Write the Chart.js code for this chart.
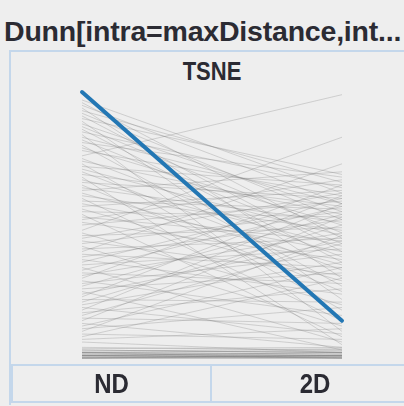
<!DOCTYPE html>
<html>
<head>
<meta charset="utf-8">
<script src="https://cdn.jsdelivr.net/npm/chart.js@4/dist/chart.umd.min.js"></script>
<style>
  html, body { margin: 0; padding: 0; }
  body { width: 404px; height: 406px; overflow: hidden; background: #eeeeee; position: relative;
         font-family: "Liberation Sans", Arial, sans-serif; color: #2b2b33; }
  #title { position: absolute; left: 4px; top: 15px; font-weight: bold; font-size: 28.5px; white-space: nowrap; letter-spacing: -0.2px; }
  #panel { position: absolute; left: 9px; top: 50px; width: 420px; height: 353px;
           border-left: 2px solid #c4d7eb; border-top: 2px solid #c4d7eb; }
  #sub { position: absolute; left: 0; width: 424px; top: 59px; text-align: center; font-weight: bold; font-size: 22px;
         transform: scaleY(1.15); }
  #plot { position: absolute; left: 74px; top: 84px; width: 276px; height: 282px; }
  #cells { position: absolute; left: 11px; top: 364px; display: flex; }
  .cell { box-sizing: border-box; height: 39px; border: 2px solid #c4d7eb; margin-right: -2px;
          text-align: center; font-weight: bold; font-size: 24px; line-height: 35px; }
  .cell span { display: inline-block; transform: scaleY(1.12); }
</style>
</head>
<body>
<div id="title">Dunn[intra=maxDistance,int...</div>
<div id="panel"></div>
<div id="sub">TSNE</div>
<div id="plot"><canvas id="chart"></canvas></div>
<div id="cells"></div>
<script>
const categories = ["ND", "2D"];

// one entry per line: value on the ND axis and on the 2D axis (0..1)
const ndValues = [
  0.97, 0.96, 0.95, 0.94, 0.93, 0.92, 0.91, 0.90, 0.89, 0.88,
  0.87, 0.86, 0.85, 0.84, 0.83, 0.82, 0.81, 0.80, 0.79, 0.78,
  0.76, 0.75, 0.74, 0.73, 0.72, 0.71, 0.70, 0.69, 0.68, 0.67,
  0.66, 0.65, 0.64, 0.63, 0.62, 0.61, 0.60, 0.59, 0.58, 0.57,
  0.56, 0.55, 0.54, 0.53, 0.52, 0.51, 0.50, 0.48, 0.47, 0.46,
  0.45, 0.44, 0.43, 0.42, 0.41, 0.40, 0.39, 0.38, 0.37, 0.36,
  0.35, 0.34, 0.33, 0.32, 0.31, 0.30, 0.29, 0.28, 0.27, 0.26,
  0.25, 0.24, 0.23, 0.22, 0.21, 0.20, 0.19, 0.18, 0.17, 0.16,
  0.15, 0.14, 0.13, 0.12, 0.11, 0.10, 0.09, 0.08, 0.07, 0.06,
  0.04, 0.035, 0.03, 0.025, 0.02, 0.02, 0.015, 0.01, 0.01, 0.005,
  0.03, 0.02, 0.02, 0.01, 0.01, 0.00, 0.00, 0.00, 0.01, 0.02,
  0.005, 0.00, 0.00, 0.01, 0.00
];
const twoDValues = [
  0.62, 0.45, 0.58, 0.30, 0.66, 0.52, 0.40, 0.69, 0.22, 0.55,
  0.47, 0.36, 0.64, 0.10, 0.58, 0.43, 0.68, 0.27, 0.50, 0.61,
  0.99, 0.38, 0.54, 0.18, 0.65, 0.46, 0.33, 0.57, 0.05, 0.42,
  0.60, 0.25, 0.51, 0.70, 0.35, 0.48, 0.14, 0.56, 0.40, 0.63,
  0.29, 0.53, 0.08, 0.44, 0.67, 0.37, 0.59, 0.83, 0.20, 0.49,
  0.62, 0.31, 0.55, 0.12, 0.45, 0.73, 0.34, 0.52, 0.24, 0.60,
  0.41, 0.06, 0.57, 0.28, 0.47, 0.65, 0.16, 0.39, 0.54, 0.32,
  0.03, 0.44, 0.61, 0.21, 0.50, 0.36, 0.09, 0.58, 0.26, 0.43,
  0.13, 0.53, 0.04, 0.34, 0.19, 0.46, 0.07, 0.30, 0.11, 0.02,
  0.03, 0.04, 0.02, 0.035, 0.015, 0.025, 0.01, 0.02, 0.005, 0.01,
  0.02, 0.03, 0.01, 0.02, 0.01, 0.01, 0.00, 0.00, 0.00, 0.00,
  0.005, 0.005, 0.00, 0.00, 0.01
];

// highlighted line
const highlight = [1.0, 0.14];

const cellBox = document.getElementById("cells");
categories.forEach((c, i) => {
  const d = document.createElement("div");
  d.className = "cell";
  d.style.width = (i === 0 ? 201 : 210) + "px";
  const s = document.createElement("span");
  s.textContent = c;
  d.appendChild(s);
  cellBox.appendChild(d);
});

const datasets = ndValues.map((v, i) => ({
  data: [{ x: 0, y: v }, { x: 1, y: twoDValues[i] }],
  borderColor: "rgba(120,120,120,0.27)",
  borderWidth: 1,
  pointRadius: 0,
  order: 2
}));
datasets.push({
  data: [{ x: 0, y: highlight[0] }, { x: 1, y: highlight[1] }],
  borderColor: "#2377b4",
  borderWidth: 4,
  borderCapStyle: "round",
  pointRadius: 0,
  order: 1
});

new Chart(document.getElementById("chart"), {
  type: "line",
  data: { datasets },
  options: {
    responsive: true,
    maintainAspectRatio: false,
    animation: false,
    clip: false,
    layout: { padding: 8 },
    scales: {
      x: { type: "linear", min: 0, max: 1, display: false },
      y: { min: 0, max: 1, display: false }
    },
    plugins: { legend: { display: false }, tooltip: { enabled: false } }
  }
});
</script>
</body>
</html>
